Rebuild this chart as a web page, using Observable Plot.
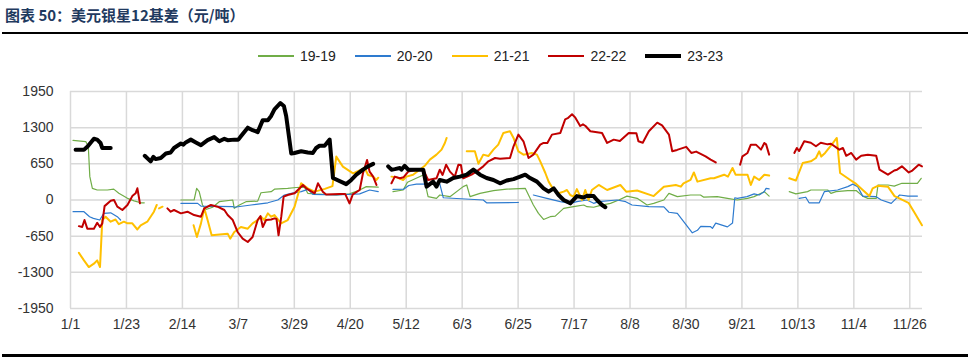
<!DOCTYPE html>
<html>
<head>
<meta charset="utf-8">
<script src="https://cdn.jsdelivr.net/npm/d3@7"></script>
<script src="https://cdn.jsdelivr.net/npm/@observablehq/plot@0.6"></script>
<style>
  html, body { margin: 0; padding: 0; background: #fff; }
  #wrap { position: relative; width: 971px; height: 360px; overflow: hidden; font-family: "Liberation Sans", Lato, sans-serif; }
  #title { position: absolute; left: 5px; top: 5px; font-family: "Noto Sans CJK SC", sans-serif; font-weight: bold; font-size: 15px; color: #1f3a5f; line-height: 20px; }
  #rule1 { position: absolute; left: 2px; top: 32px; width: 966px; height: 2px; background: #000; }
  #rule2 { position: absolute; left: 2px; top: 354px; width: 966px; height: 3px; background: #000; }
  #legend { position: absolute; left: 258px; top: 48px; display: flex; align-items: center; font-size: 14px; color: #222; }
  .item { display: flex; align-items: center; margin-right: 19px; }
  .sw { width: 36px; margin-right: 6px; }
  #chart { position: absolute; left: 0; top: 70px; }
</style>
</head>
<body>
<div id="wrap">
  <div id="title">图表 50：美元银星12基差（元/吨）</div>
  <div id="rule1"></div>
  <div id="legend"></div>
  <div id="chart"></div>
  <div id="rule2"></div>
</div>
<script>
// x positions are day-of-year (leap-year calendar), ticks every 22 days
const xTickDays = [0, 22, 44, 66, 88, 110, 132, 154, 176, 198, 220, 242, 264, 286, 308, 330];
const xTickLabels = ["1/1", "1/23", "2/14", "3/7", "3/29", "4/20", "5/12", "6/3", "6/25", "7/17", "8/8", "8/30", "9/21", "10/13", "11/4", "11/26"];
const yTicks = [-1950, -1300, -650, 0, 650, 1300, 1950];

const seriesNames = ["19-19", "20-20", "21-21", "22-22", "23-23"];
const seriesColors = ["#70AD47", "#2E7BCF", "#FFC000", "#C00000", "#000000"];
const seriesWidths = [1.2, 1.2, 2, 2, 4];

// 19-19 : segments of [day, value]
const s19 = [
  [[1,1070],[6,1050],[7,960],[7.6,420],[8.6,210],[10.5,180],[14.5,180],[17,195],[19,120],[22.4,30],[25,-15],[27.6,-50],[29,-50]],
  [[43.4,0],[48.6,0],[49.6,210],[50.6,150],[51.9,-90],[53.2,-170],[55.9,-130],[58.5,-30],[63.8,0],[64.4,-150],[66.4,-90],[69,-30],[73.6,-20],[74.9,130],[78.9,150],[80.2,195],[85.4,210],[88.7,225],[92,230],[93.3,120],[96,110],[104.5,90],[109.7,110],[113.7,180],[116.3,240],[121,230]],
  [[126.8,150],[130.8,180],[132.5,320],[138.7,450],[140.6,60],[143.9,30],[145.2,90],[149.2,60],[154.4,240],[155.8,270],[157.1,60],[161,120],[166.3,170],[171.5,195],[178.8,210],[182,-90],[184,-240],[186,-350],[188.6,-300],[190.6,-290],[193.9,-150],[197.8,-120],[201.8,-90],[203.1,-120],[205.7,-130],[208,-100],[212.3,-60],[215.6,0],[218.8,70],[222.8,30],[226.7,-90],[229.3,-60],[233.3,0],[235.3,120],[238.6,60],[243.8,90],[247.7,90],[249,50],[254.3,60],[258.3,30],[262.2,0],[266.2,30],[268.8,60],[272.8,150],[274.7,70]],
  [[282.6,150],[285.2,110],[289.8,150],[291.1,180],[297.7,180],[299,120],[301,150],[305.6,170],[308.9,170],[311.5,70],[313.5,30],[316.8,30],[317.5,270],[321.4,270],[323.9,250],[326.9,300],[333,300],[334.5,390]]
];
// 20-20
const s20 = [
  [[1,-210],[5.3,-210],[7.5,-300],[9,-330],[11.5,-360],[13.1,-240],[15.8,-230],[18.4,-300],[19.7,-360]],
  [[43.4,-60],[50,-60],[51.3,-110],[63.8,-120],[64.4,-130],[71,-90],[77.6,-50],[81.5,0],[84.1,90],[86.8,120],[90.7,150],[93.3,190],[95.3,100],[104.5,90],[113.7,110],[117.6,180],[121,150]],
  [[126.8,190],[131,195],[133,260],[136,285],[145.2,290],[146.6,40],[162.3,0],[163.6,-50],[176.1,-45]],
  [[182,90],[187.3,30],[192.6,-30],[196.5,-60],[199.1,-30],[203.1,0],[205.7,-60],[207.7,-30],[214.9,0],[218.3,-30],[220.8,-90],[227.4,-120],[233.3,-125],[235.3,-220],[238.6,-240],[244.5,-590],[246.5,-545],[247.8,-475],[251.7,-480],[252.4,-510],[253.7,-415],[258.3,-483],[260.3,-415],[261.2,40],[262.2,30],[266,60],[268.8,110],[270.8,90],[272.8,150],[273.5,210],[274.7,200]],
  [[286.5,30],[289.1,50],[290.4,-50],[294.4,-50],[296.4,150],[301.6,180],[305.6,240],[307.6,285],[309.5,240],[311.5,70],[316.8,60],[318.8,0],[322.7,-60],[324.7,30],[326,90],[329.3,70],[333,70]]
];
// 21-21
const s21 = [
  [[3.3,-950],[5.3,-1085],[7.2,-1205],[9.2,-1145],[10.5,-1085],[11.6,-1205],[12.5,-360],[13.8,-300],[15.8,-390],[17.7,-350],[19,-435],[21,-390],[22.4,-420],[24.3,-420],[26.3,-530],[27.6,-455],[30.2,-390],[32.8,-210],[33.9,-90]],
  [[34.8,-150],[36.2,-120]],
  [[48.4,-455],[49.7,-665],[51.3,-420],[52.6,-150],[53.9,-360],[55.5,-635],[61.8,-605],[62.8,-695],[64.4,-575],[67,-485],[69.7,-515],[71.6,-420],[73.6,-360],[74.9,-300],[76.2,-360],[77.6,-240],[78.9,-300],[80.2,-270],[82.8,-420],[85.4,-360],[88.1,-120],[90.7,300],[93.3,210],[96,150],[100,200],[103,250],[104.5,780],[107.1,600],[111.1,480],[113,520],[115.7,575],[117,450],[119,420],[120.3,360],[121,400]],
  [[126.2,420],[128,410],[130.8,360],[132.1,420],[134.7,455],[137.3,545],[139.3,615],[141.3,725],[143.9,815],[145.9,905],[147.2,1025],[147.9,1115]],
  [[155.8,875],[159,875],[160.4,650],[162.3,815],[164.3,790],[166.3,905],[168.2,995],[170.2,1205],[172.8,1235],[174.2,1115],[176.1,875],[178.1,815],[181.4,845],[183.4,815],[184.7,695],[186.7,485],[188,330],[190,180],[191.9,120],[193.9,150],[195.2,180],[196.5,90],[197.8,60],[199.1,195],[201.1,0],[202.4,180],[203.7,0],[205,180],[207.7,270],[211,180],[216.2,270],[218.5,150],[222.8,170],[229.3,70],[233.3,240],[238,270],[240,240],[241,300],[243.8,360],[245.1,495],[246.5,330],[251.7,390],[253,390],[257,455],[258.5,420],[260.3,575],[261.5,455],[266.2,455],[267.5,270],[268.8,420],[270.8,360],[272.8,455],[274.7,440]],
  [[282.6,390],[285.2,350],[287.9,665],[291.1,695],[293.1,755],[294.4,875],[295.2,780],[296.7,845],[299.3,995],[301.3,1115],[302.6,485],[306.6,360],[308.6,300],[311.5,180],[314.1,70],[315.4,210],[317.4,255],[321.4,240],[324,70],[326.7,10],[329.5,-50],[332,-240],[334.8,-455]]
];
// 22-22
const s22 = [
  [[3.3,-470],[4.6,-485],[5.5,-360],[6.6,-515],[9.2,-515],[10.5,-410],[11.6,-485],[12.5,-420],[13.4,-110],[15.8,-15],[17.1,0],[18.4,-120],[20.4,-180],[22.4,-90],[24.3,70],[25.6,120],[26.3,210],[27.3,-60]],
  [[38.1,-150],[39.4,-210],[40.7,-180],[43.4,-240],[46,-210],[48.6,-270],[51.3,-300],[52.6,-150],[55.2,-90],[57.8,-120],[60.5,-180],[61.8,-270],[63.8,-360],[65.7,-575],[67.7,-695],[69.7,-755],[71.6,-665],[73.6,-360],[74.7,-290],[75.6,-485],[76.9,-360],[78.9,-350],[80.2,-330],[81,-340],[81.8,-635],[82.9,-290],[83.8,60],[85.4,90],[88.1,120],[91.4,270],[92.7,210],[96,120],[97.3,300],[99.2,150],[100.5,100],[105.8,110],[108,110],[109.7,-60],[111,100],[113.7,180],[115,480],[116.6,720],[117.6,510],[119,420],[120.3,270]],
  [[126.2,300],[127.5,420],[129.5,390],[131,410],[132.8,510],[136,545],[138.7,545],[140.6,360],[143.9,390],[145.2,545],[146.3,450],[147.7,635],[149.2,510],[151.1,420],[152.5,635],[153.5,630],[154.4,390],[157.7,455],[159.7,515],[162.3,605],[164.3,695],[166.9,755],[168.9,740],[172.8,755],[174.2,965],[176.1,1175],[178.1,1055],[180.1,755],[182,815],[184.7,995],[186,1025],[187.5,1025],[189.3,1175],[192.6,1205],[194.5,1450],[195.5,1470],[197.2,1540],[198.5,1480],[200.4,1330],[201.5,1360],[202.5,1330],[204.4,1235],[209,1205],[211,1025],[213.6,1085],[216,1060],[219.5,1205],[222.5,1200],[223.3,1055],[225,1030],[227.4,1235],[230.7,1390],[232.6,1340],[235.3,1175],[236.6,875],[238.5,900],[242.1,955],[244.1,845],[246,870],[249.7,785],[251.7,725],[253.7,675]],
  [[263.3,635],[264.2,785],[266.2,845],[267.5,995],[269.5,995],[271.5,905],[272.8,1025],[273.5,1000],[274.7,815]],
  [[284.6,845],[285.6,935],[286.5,880],[288.5,1055],[291.1,1030],[293.1,965],[295,1030],[297.7,1000],[299,1010],[302.3,905],[303.7,935],[305,795],[307,845],[308.9,725],[310.9,795],[313.5,815],[316.8,795],[318.1,545],[321.4,455],[323.9,530],[325,545],[326.9,605],[329.6,495],[331,530],[333.5,635],[334.8,605]]
];
// 23-23
const s23 = [
  [[2,905],[5.3,905],[6.8,965],[9.2,1100],[10.5,1085],[11.8,1025],[12.5,935],[15.8,935]],
  [[29.2,795],[31.5,695],[32.6,775],[33.5,735],[35.5,755],[37.5,835],[39.4,855],[40.7,935],[43.4,1015],[44.4,995],[45.3,1035],[47.3,1085],[49.3,1035],[51.3,985],[53.9,1075],[56.5,1130],[58.5,1055],[60.5,1100],[61.8,1075],[64.4,1085],[66,1085],[67,1145],[69.7,1300],[71.6,1255],[73.6,1220],[75.6,1435],[77.6,1435],[78.9,1510],[80.2,1630],[82.5,1740],[83.9,1690],[84.8,1510],[86.8,835],[88.1,845],[90.7,875],[93.3,855],[95.3,845],[96.6,935],[97.9,975],[99.9,975],[101.9,1085],[103.2,395],[108.4,285],[110.4,360],[112.4,455],[115,545],[117,605],[119,650]],
  [[124.9,605],[126.2,545],[127.5,555],[129.5,575],[130.1,545],[131.4,615],[132.8,545],[134.7,545],[138.7,545],[140,240],[142.6,330],[143.9,240],[145.2,360],[147.9,330],[150.5,395],[153.1,420],[155.8,455],[158.4,545],[161,455],[163.6,395],[166.3,360],[168.9,300],[171.5,350],[174.2,375],[176.8,420],[178.8,455],[180.7,395],[183.4,330],[186,210],[188,150],[190,210],[191.9,90],[193.9,0],[196.5,-60],[199.1,70],[201.8,45],[203.1,75],[205.7,70],[207,0],[209,-90],[210.3,-130]]
];

const allSeries = [s19, s20, s21, s22, s23];

// legend
const legend = document.getElementById("legend");
seriesNames.forEach((name, i) => {
  const item = document.createElement("div");
  item.className = "item";
  const sw = document.createElement("div");
  sw.className = "sw";
  sw.style.height = (i === 4 ? 4 : (i >= 2 ? 2 : 1.3)) + "px";
  sw.style.background = seriesColors[i];
  const t = document.createElement("span");
  t.textContent = name;
  item.appendChild(sw); item.appendChild(t);
  legend.appendChild(item);
});

const rows = [];
allSeries.forEach((segs, si) => {
  segs.forEach((seg, gi) => {
    seg.forEach(([d, v]) => rows.push({series: seriesNames[si], seg: si + "_" + gi, day: d, value: v}));
  });
});

const marks = [
  Plot.gridY(yTicks, {stroke: "#d9d9d9", strokeOpacity: 1, strokeWidth: 1.5}),
  Plot.gridX(xTickDays, {stroke: "#d9d9d9", strokeOpacity: 1, strokeWidth: 1.5}),
  Plot.axisY(yTicks, {tickSize: 0, tickPadding: 17, fontSize: 14, fill: "#333", label: null, tickFormat: (d) => String(d)}),
  Plot.axisX(xTickDays, {tickSize: 0, tickPadding: 11, fontSize: 14, fill: "#333", label: null, tickFormat: (d) => xTickLabels[xTickDays.indexOf(d)]})
];
seriesNames.forEach((name, i) => {
  marks.push(Plot.line(rows.filter(r => r.series === name), {
    x: "day", y: "value", z: "seg",
    stroke: seriesColors[i], strokeWidth: seriesWidths[i],
    strokeLinejoin: "round", strokeLinecap: "round"
  }));
});

const chart = Plot.plot({
  width: 971,
  height: 290,
  marginLeft: 70,
  marginRight: 49,
  marginTop: 21,
  marginBottom: 52,
  style: {fontFamily: "'Liberation Sans', Lato, sans-serif", background: "transparent"},
  x: {domain: [0, 335], label: null},
  y: {domain: [-1950, 1950], label: null},
  marks
});
document.getElementById("chart").appendChild(chart);
</script>
</body>
</html>
